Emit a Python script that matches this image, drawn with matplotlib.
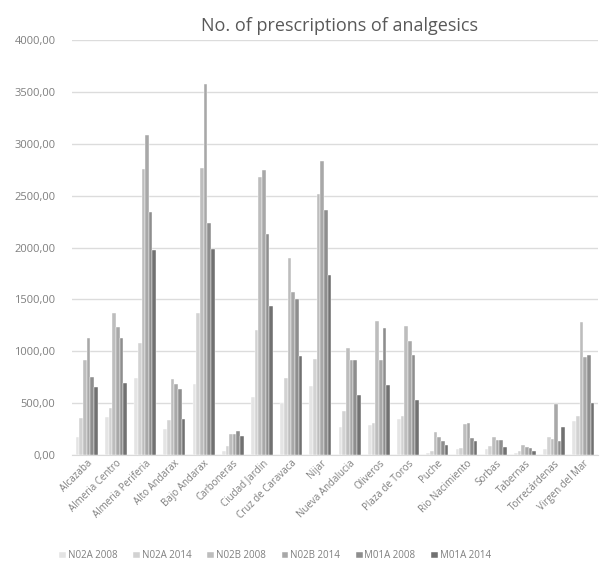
import matplotlib
matplotlib.use('Agg')
import matplotlib.pyplot as plt
import matplotlib.ticker as mtick
import numpy as np

plt.rcParams['font.family'] = ['Open Sans', 'DejaVu Sans']

areas = ["Alcazaba", "Almeria Centro", "Almeria Periferia", "Alto Andarax",
         "Bajo Andarax", "Carboneras", "Ciudad Jardin", "Cruz de Caravaca",
         "Nijar", "Nueva Andalucia", "Oliveros", "Plaza de Toros", "Puche",
         "Rio Nacimiento", "Sorbas", "Tabernas", "Torrecárdenas", "Virgen del Mar"]

series_names = ["N02A 2008", "N02A 2014", "N02B 2008", "N02B 2014", "M01A 2008", "M01A 2014"]

n02a_2008 = [175, 367, 748, 248, 690, 40, 561, 500, 667, 274, 290, 351, 25, 61, 61, 25, 55, 329]
n02a_2014 = [355, 457, 1076, 335, 1370, 87, 1206, 748, 931, 425, 312, 377, 40, 71, 87, 40, 177, 377]
n02b_2008 = [919, 1370, 2756, 738, 2769, 206, 2675, 1898, 2514, 1032, 1296, 1241, 222, 297, 174, 103, 158, 1279]
n02b_2014 = [1125, 1231, 3082, 690, 3578, 200, 2746, 1576, 2836, 919, 915, 1096, 177, 313, 151, 80, 496, 948]
m01a_2008 = [757, 1131, 2340, 641, 2240, 232, 2127, 1506, 2366, 919, 1222, 967, 135, 168, 151, 71, 135, 967]
m01a_2014 = [660, 699, 1979, 345, 1982, 184, 1441, 957, 1731, 577, 674, 532, 94, 135, 80, 45, 271, 506]

values = [n02a_2008, n02a_2014, n02b_2008, n02b_2014, m01a_2008, m01a_2014]
colors = ['#e4e4e4', '#d2d2d2', '#bdbdbd', '#a8a8a8', '#8e8e8e', '#717171']

fig = plt.figure(figsize=(6.01, 5.69), dpi=100)
ax = fig.add_axes([0.12, 0.20, 0.875, 0.73])

x = np.arange(len(areas))
bw = 0.125
for i, (vals, name) in enumerate(zip(values, series_names)):
    ax.bar(x + (i - 2.5) * bw, vals, width=bw, color=colors[i], label=name,
           edgecolor='white', linewidth=0.3, zorder=3)

ax.set_xlim(-0.5, len(areas) - 0.5)
ax.set_ylim(0, 4000)
ax.set_yticks(np.arange(0, 4001, 500))
ax.yaxis.set_major_formatter(mtick.FuncFormatter(lambda v, p: f"{v:.2f}".replace('.', ',')))
ax.grid(axis='y', color='#dcdcdc', linewidth=1, zorder=0)
for s in ['top', 'right', 'left']:
    ax.spines[s].set_visible(False)
ax.spines['bottom'].set_color('#d9d9d9')
ax.tick_params(axis='y', length=0, labelsize=8, colors='#7f7f7f', pad=12)
ax.tick_params(axis='x', length=0, labelsize=7, colors='#7f7f7f', pad=2)
ax.set_xticks(x)
ax.set_xticklabels(areas, rotation=45, ha='right', rotation_mode='anchor')

fig.text(0.565, 0.955, "No. of prescriptions of analgesics", ha='center', va='center',
         fontsize=13, color='#595959')

fig.legend(loc='center', bbox_to_anchor=(0.458, 0.023), ncol=6, frameon=False,
           fontsize=7, labelcolor='#7f7f7f', handlelength=0.7, handleheight=0.7,
           handletextpad=0.2, columnspacing=1.6)

plt.savefig("out.png", dpi=100)
